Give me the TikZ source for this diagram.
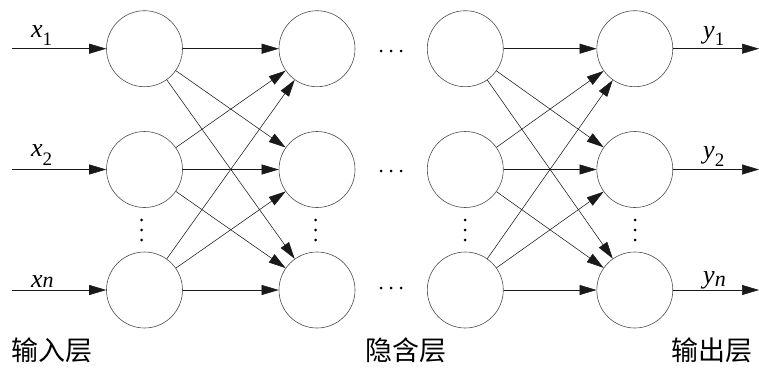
\documentclass[tikz,border=0pt]{standalone}
\usepackage{fontspec}
\setmainfont{Liberation Serif}
\newfontfamily\tnr{Liberation Serif}
\newfontfamily\cjk{Noto Sans CJK SC}
\usetikzlibrary{arrows.meta}
\begin{document}
\begin{tikzpicture}[x=1pt,y=-1pt,
  neuron/.style={circle,draw=black!70,line width=0.6pt,minimum size=76pt,inner sep=0pt},
  conn/.style={draw=black!90,line width=0.55pt,-{Triangle[length=17pt,width=10pt]}},
  lab/.style={font=\tnr\itshape\fontsize{26}{26}\selectfont,anchor=base west,inner sep=0pt},
  layerlab/.style={font=\cjk\fontsize{27}{27}\selectfont,inner sep=0pt,anchor=west},
  dotm/.style={circle,fill=black,inner sep=0pt,minimum size=3pt}]
\useasboundingbox (0,0) rectangle (759,367);
% neurons
\foreach \r/\y in {1/48.7,2/169.5,3/290}{
  \node[neuron] (a\r) at (144.5,\y) {};
  \node[neuron] (b\r) at (317,\y) {};
  \node[neuron] (c\r) at (465.3,\y) {};
  \node[neuron] (d\r) at (634.8,\y) {};
  \coordinate (in\r) at (12,\y);
  \coordinate (out\r) at (759,\y);
  \draw[conn] (in\r) -- (a\r);
  \draw[conn] (d\r) -- (out\r);
}
% full connections
\foreach \i in {1,2,3}{
  \foreach \j in {1,2,3}{
    \draw[conn] (a\i) -- (b\j);
    \draw[conn] (c\i) -- (d\j);
  }
}
% input / output labels
\node[lab] (lx1) at (31,37.3) {x\raisebox{-8.4pt}{\tnr\upshape\fontsize{19}{19}\selectfont 1}};
\node[lab] (lx2) at (31,156) {x\raisebox{-9pt}{\tnr\upshape\fontsize{19}{19}\selectfont 2}};
\node[lab] (lxn) at (31,287) {x\fontsize{22}{22}\selectfont n};
\node[lab] (ly1) at (703,38) {y\raisebox{-7pt}{\tnr\upshape\fontsize{19}{19}\selectfont 1}};
\node[lab] (ly2) at (703,158.5) {y\raisebox{-7.5pt}{\tnr\upshape\fontsize{19}{19}\selectfont 2}};
\node[lab] (lyn) at (703,283) {y\raisebox{-3pt}{\fontsize{22}{22}\selectfont n}};
% horizontal ellipses
\foreach \y in {51,171,288}{
  \foreach \x in {381,391,401}{
    \node[dotm] at (\x,\y) {};
  }
}
% vertical ellipses
\foreach \x in {141.7,315.5,465,635}{
  \foreach \y in {220,230,240}{
    \node[dotm] at (\x,\y) {};
  }
}
% layer labels
\node[layerlab] (L1) at (11,350) {输入层};
\node[layerlab] (L2) at (365,350) {隐含层};
\node[layerlab] (L3) at (671,350) {输出层};
\end{tikzpicture}
\end{document}
